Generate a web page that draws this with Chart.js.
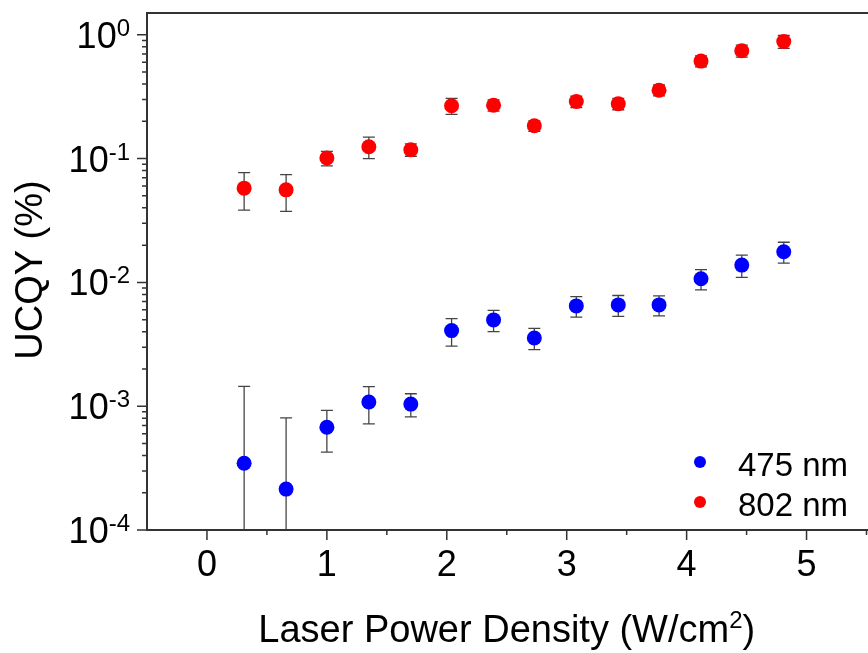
<!DOCTYPE html>
<html>
<head>
<meta charset="utf-8">
<script src="https://cdn.jsdelivr.net/npm/chart.js@4"></script>
<style>
  body { margin: 0; background: #fff; overflow: hidden; }
  #wrap { position: relative; width: 874px; height: 653px; }
</style>
</head>
<body>
<div id="wrap"><canvas id="myChart"></canvas></div>
<script>
const ctx = document.getElementById("myChart").getContext("2d");

// laser power density (W/cm2), same for both series
const power = [0.31, 0.66, 1.00, 1.35, 1.70, 2.04, 2.39, 2.73, 3.08, 3.43, 3.77, 4.12, 4.46, 4.81];

// UCQY (%) and error bars
const blue475 = [0.000346, 0.000214, 0.000676, 0.00108, 0.00104, 0.00408, 0.00498, 0.00356, 0.00646, 0.00658, 0.00658, 0.0107, 0.0138, 0.0177];
const blue475Err = [0.0011, 0.00059, 0.00025, 0.00036, 0.00022, 0.00102, 0.00097, 0.0007, 0.00122, 0.00126, 0.00121, 0.002, 0.0028, 0.0034];
const red802 = [0.0577, 0.0559, 0.101, 0.1245, 0.118, 0.267, 0.270, 0.184, 0.289, 0.277, 0.357, 0.613, 0.743, 0.883];
const red802Err = [0.0193, 0.0184, 0.0135, 0.0245, 0.0135, 0.039, 0.028, 0.018, 0.031, 0.029, 0.036, 0.063, 0.083, 0.106];

const xTicks = [0, 1, 2, 3, 4, 5];
const yTickExps = [0, -1, -2, -3, -4];

const FONT = "'Liberation Sans', Arial, sans-serif";

function toPoints(ys) {
  return ys.map((y, i) => ({ x: power[i], y: y }));
}

// text with a superscript part
function drawSup(c, parts, x, y, size, supSize, raise, align) {
  let w = 0;
  parts.forEach(p => {
    c.font = (p.sup ? supSize : size) + "px " + FONT;
    p.w = c.measureText(p.t).width;
    w += p.w;
  });
  let cx = align === "right" ? x - w : align === "center" ? x - w / 2 : x;
  parts.forEach(p => {
    c.font = (p.sup ? supSize : size) + "px " + FONT;
    c.fillText(p.t, cx, p.sup ? y - raise : y);
    cx += p.w;
  });
}

const errorBars = {
  id: "errorBars",
  beforeDatasetsDraw(chart) {
    const c = chart.ctx, area = chart.chartArea;
    const xs = chart.scales.x, ys = chart.scales.y;
    c.save();
    c.beginPath();
    c.rect(area.left, area.top, area.right - area.left, area.bottom - area.top);
    c.clip();
    c.strokeStyle = "#444";
    c.lineWidth = 1.3;
    chart.data.datasets.forEach(ds => {
      ds.data.forEach((p, i) => {
        const e = ds.errors[i];
        const px = xs.getPixelForValue(p.x);
        const top = ys.getPixelForValue(p.y + e);
        const low = p.y - e;
        const bot = low > 0 ? ys.getPixelForValue(low) : area.bottom + 5;
        c.beginPath();
        c.moveTo(px, top); c.lineTo(px, bot);
        c.moveTo(px - 6, top); c.lineTo(px + 6, top);
        if (low > 0) { c.moveTo(px - 6, bot); c.lineTo(px + 6, bot); }
        c.stroke();
      });
    });
    c.restore();
  },
  afterDraw(chart) {
    const c = chart.ctx, area = chart.chartArea;
    const xs = chart.scales.x, ys = chart.scales.y;
    c.save();
    c.strokeStyle = "#333";
    c.fillStyle = "#000";
    // frame
    c.lineWidth = 2;
    c.beginPath();
    c.moveTo(area.right + 2, area.top); c.lineTo(area.left, area.top);
    c.lineTo(area.left, area.bottom); c.lineTo(area.right + 2, area.bottom);
    c.stroke();

    // x ticks
    c.lineWidth = 1.5;
    c.beginPath();
    xTicks.forEach(v => {
      const px = xs.getPixelForValue(v);
      c.moveTo(px, area.bottom); c.lineTo(px, area.bottom + 10);
      const pm = xs.getPixelForValue(v + 0.5);
      c.moveTo(pm, area.bottom); c.lineTo(pm, area.bottom + 5);
    });
    // y ticks
    yTickExps.forEach(e => {
      const py = ys.getPixelForValue(Math.pow(10, e));
      c.moveTo(area.left, py); c.lineTo(area.left - 10, py);
      for (let m = 2; m <= 9; m++) {
        const v = m * Math.pow(10, e);
        if (v > ys.max) break;
        const pm = ys.getPixelForValue(v);
        c.moveTo(area.left, pm); c.lineTo(area.left - 5, pm);
      }
    });
    c.stroke();

    // x tick labels
    c.textBaseline = "alphabetic";
    c.textAlign = "center";
    c.font = "36px " + FONT;
    xTicks.forEach(v => c.fillText(String(v), xs.getPixelForValue(v), 576));

    // y tick labels
    c.textAlign = "left";
    yTickExps.forEach(e => {
      const py = ys.getPixelForValue(Math.pow(10, e));
      drawSup(c, [{ t: "10" }, { t: String(e), sup: true }], 130, py + 13, 36, 24, 12, "right");
    });

    // x title
    drawSup(c, [{ t: "Laser Power Density (W/cm" }, { t: "2", sup: true }, { t: ")" }],
      (area.left + area.right) / 2, 642, 38, 24, 14, "center");

    // y title
    c.save();
    c.translate(42, 270);
    c.rotate(-Math.PI / 2);
    c.textAlign = "center";
    c.font = "38px " + FONT;
    c.fillText("UCQY (%)", 0, 0);
    c.restore();

    // legend
    c.textAlign = "left";
    c.font = "33px " + FONT;
    chart.data.datasets.forEach((ds, i) => {
      const y = 462 + i * 40;
      c.fillStyle = ds.backgroundColor;
      c.beginPath();
      c.arc(700, y, 6, 0, Math.PI * 2);
      c.fill();
      c.fillStyle = "#000";
      c.fillText(ds.label, 738, y + 14);
    });
    c.restore();
  }
};

const data = {
  datasets: [
    {
      label: "475 nm",
      data: toPoints(blue475),
      errors: blue475Err,
      backgroundColor: "#0000ff",
      borderWidth: 0,
      pointRadius: 7.5,
    },
    {
      label: "802 nm",
      data: toPoints(red802),
      errors: red802Err,
      backgroundColor: "#ff0000",
      borderWidth: 0,
      pointRadius: 7.5,
    },
  ],
};

const config = {
  type: "scatter",
  data: data,
  options: {
    responsive: true,
    maintainAspectRatio: false,
    animation: false,
    layout: { padding: { left: 147, top: 13, right: 3, bottom: 123 } },
    plugins: { legend: { display: false }, tooltip: { enabled: false } },
    scales: {
      x: { type: "linear", min: -0.5, max: 5.5, display: false },
      y: { type: "logarithmic", min: 0.0001, max: 1.5, display: false },
    },
  },
  plugins: [errorBars],
};

const myChart = new Chart(ctx, config);
</script>
</body>
</html>
